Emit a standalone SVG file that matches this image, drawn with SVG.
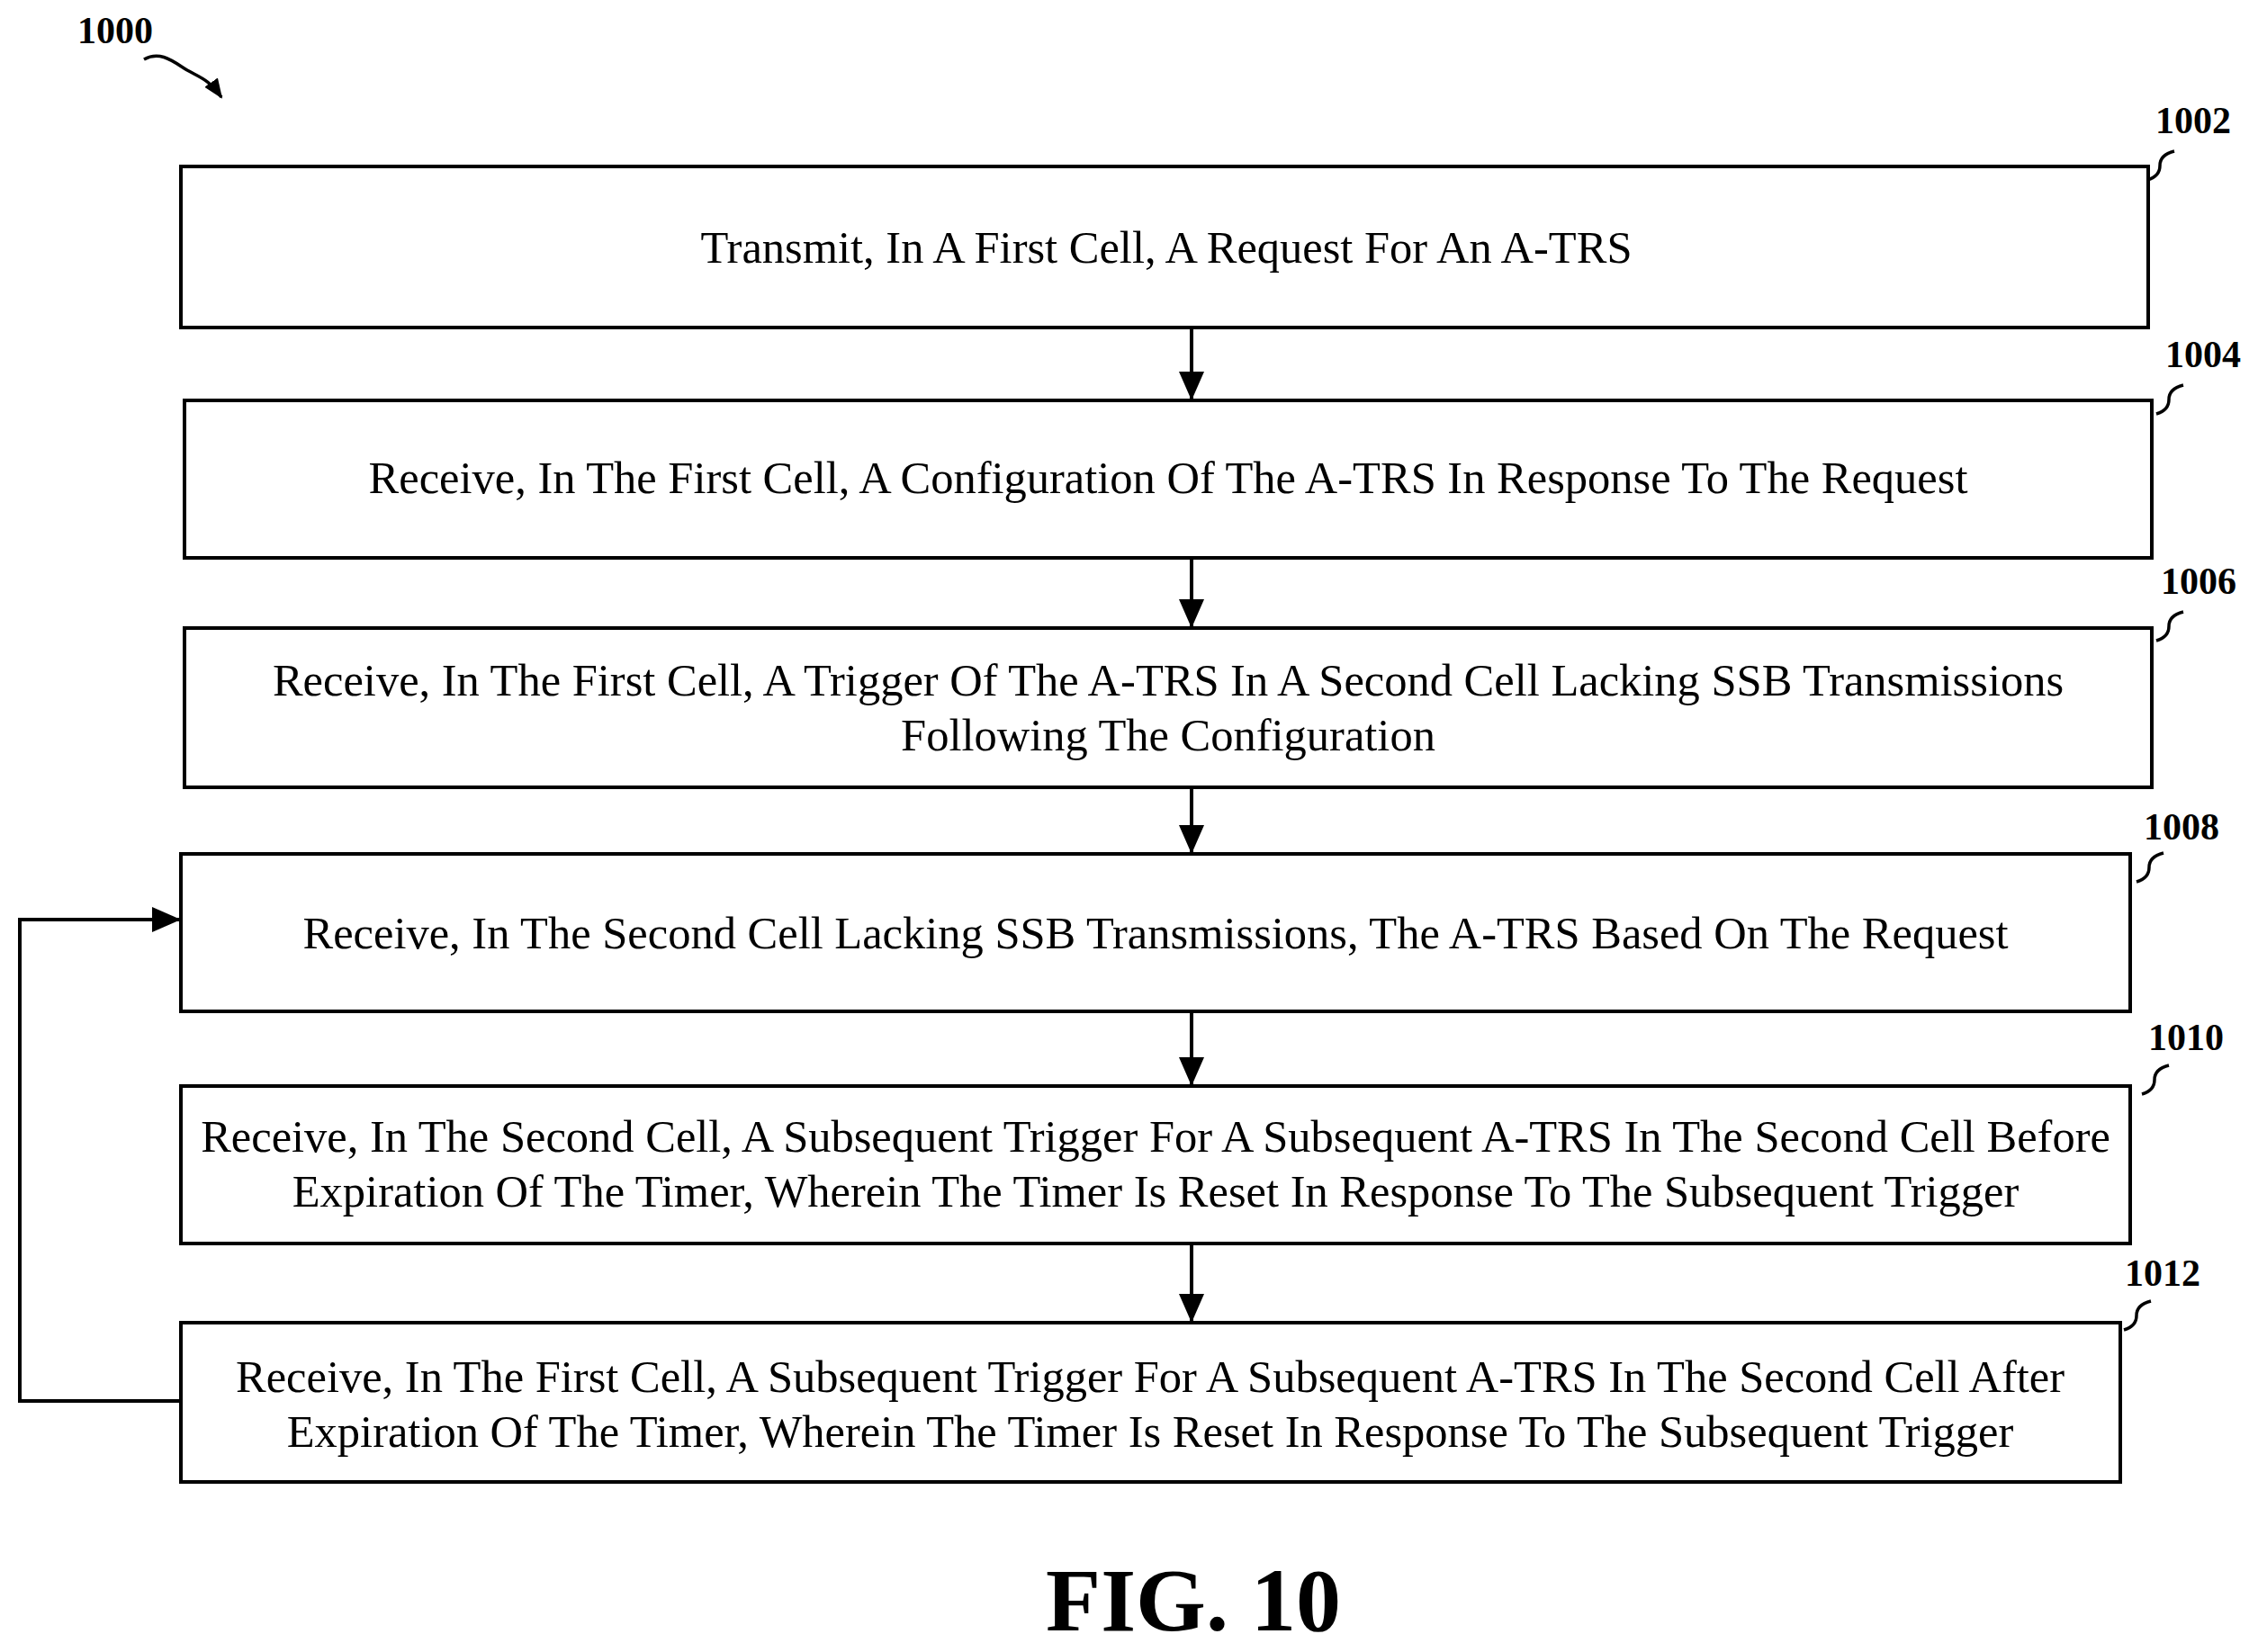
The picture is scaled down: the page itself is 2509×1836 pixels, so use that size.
<svg xmlns="http://www.w3.org/2000/svg" width="2509" height="1836" viewBox="0 0 2509 1836">
<style>
.b{fill:#fff;stroke:#000;stroke-width:4}
.t{font-family:"Liberation Serif",serif;font-size:50.5px;text-anchor:middle}
.l{font-family:"Liberation Serif",serif;font-size:42px;font-weight:bold;text-anchor:middle}
.c{fill:none;stroke:#000;stroke-width:4}
.s{fill:none;stroke:#000;stroke-width:3.5}
</style>
<defs><marker id="a" markerWidth="22" markerHeight="18" refX="20" refY="9" orient="auto" markerUnits="userSpaceOnUse"><path d="M0,0L22,9L0,18z"/></marker>
<marker id="m" markerWidth="32" markerHeight="28" refX="30" refY="14" orient="auto" markerUnits="userSpaceOnUse"><path d="M0,0L32,14L0,28z"/></marker></defs>
<rect width="2509" height="1836" fill="#fff"/>
<g id="label1000"><text x="128" y="48" class="l">1000</text><path class="s" d="M160,66 C178,56 192,68 208,78 C222,86 232,88 246,108" marker-end="url(#a)"/></g>
<g id="n1002"><rect class="b" x="201" y="185" width="2186" height="179"/><text class="t" x="1296" y="292">Transmit, In A First Cell, A Request For An A-TRS</text><text class="l" x="2437" y="148">1002</text><path class="s" d="M2386,200 q14,-4 14,-16 q0,-12 16,-16"/></g>
<g id="n1004"><rect class="b" x="205" y="445" width="2186" height="175"/><text class="t" x="1298" y="548">Receive, In The First Cell, A Configuration Of The A-TRS In Response To The Request</text><text class="l" x="2448" y="408">1004</text><path class="s" d="M2396,460 q14,-4 14,-16 q0,-12 16,-16"/></g>
<g id="n1006"><rect class="b" x="205" y="698" width="2186" height="177"/><text class="t" x="1298" y="773">Receive, In The First Cell, A Trigger Of The A-TRS In A Second Cell Lacking SSB Transmissions</text><text class="t" x="1298" y="834">Following The Configuration</text><text class="l" x="2443" y="660">1006</text><path class="s" d="M2396,712 q14,-4 14,-16 q0,-12 16,-16"/></g>
<g id="n1008"><rect class="b" x="201" y="949" width="2166" height="175"/><text class="t" x="1284" y="1054">Receive, In The Second Cell Lacking SSB Transmissions, The A-TRS Based On The Request</text><text class="l" x="2424" y="933">1008</text><path class="s" d="M2374,980 q14,-4 14,-16 q0,-12 16,-16"/></g>
<g id="n1010"><rect class="b" x="201" y="1207" width="2166" height="175"/><text class="t" x="1284" y="1280">Receive, In The Second Cell, A Subsequent Trigger For A Subsequent A-TRS In The Second Cell Before</text><text class="t" x="1284" y="1341">Expiration Of The Timer, Wherein The Timer Is Reset In Response To The Subsequent Trigger</text><text class="l" x="2429" y="1167">1010</text><path class="s" d="M2380,1216 q14,-4 14,-16 q0,-12 16,-16"/></g>
<g id="n1012"><rect class="b" x="201" y="1470" width="2155" height="177"/><text class="t" x="1278" y="1547">Receive, In The First Cell, A Subsequent Trigger For A Subsequent A-TRS In The Second Cell After</text><text class="t" x="1278" y="1608">Expiration Of The Timer, Wherein The Timer Is Reset In Response To The Subsequent Trigger</text><text class="l" x="2403" y="1429">1012</text><path class="s" d="M2360,1478 q14,-4 14,-16 q0,-12 16,-16"/></g>
<g id="connectors">
<line class="c" x1="1324" y1="364" x2="1324" y2="443" marker-end="url(#m)"/>
<line class="c" x1="1324" y1="620" x2="1324" y2="696" marker-end="url(#m)"/>
<line class="c" x1="1324" y1="875" x2="1324" y2="947" marker-end="url(#m)"/>
<line class="c" x1="1324" y1="1124" x2="1324" y2="1205" marker-end="url(#m)"/>
<line class="c" x1="1324" y1="1382" x2="1324" y2="1468" marker-end="url(#m)"/>
<path class="c" d="M201,1557H22V1022H199" marker-end="url(#m)"/>
</g>
<text x="1326" y="1812" font-family="Liberation Serif,serif" font-size="100" font-weight="bold" text-anchor="middle">FIG. 10</text>
</svg>
